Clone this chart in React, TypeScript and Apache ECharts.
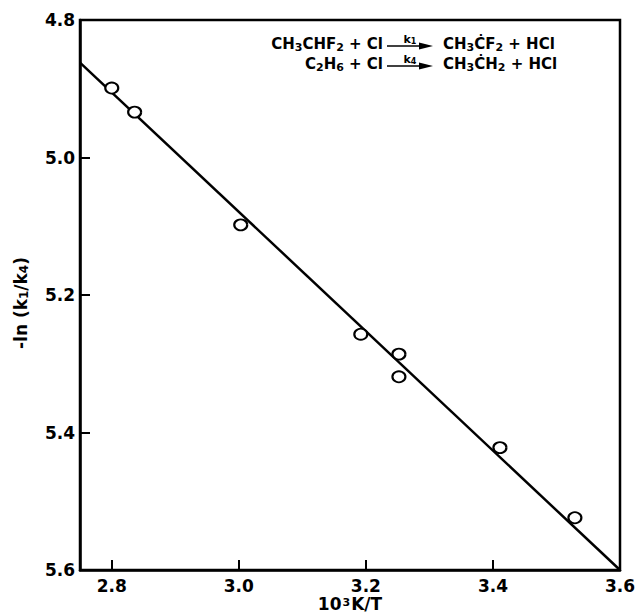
import React, { useEffect, useRef } from "react";
import * as echarts from "echarts";

const xValues = [2.8, 2.836, 3.003, 3.192, 3.252, 3.252, 3.411, 3.529];
const yValues = [4.899, 4.934, 5.098, 5.257, 5.286, 5.319, 5.422, 5.524];
const fitX = [2.75, 3.6];
const fitY = [4.862, 5.6];
const xTicks = [2.8, 3.0, 3.2, 3.4, 3.6];
const yTicks = [4.8, 5.0, 5.2, 5.4, 5.6];
const eqLeft = ["CH{s|3}CHF{s|2} + Cl", "C{s|2}H{s|6} + Cl"];
const eqK = ["k{s|1}", "k{s|4}"];
const eqRight = ["CH{s|3}ĊF{s|2} + HCl", "CH{s|3}ĊH{s|2} + HCl"];

const FONT = '"DejaVu Sans", "Liberation Sans", Arial, sans-serif';

export default function App() {
  const ref = useRef<HTMLDivElement>(null);
  useEffect(() => {
    if (!ref.current) return;
    const chart = echarts.init(ref.current, undefined, { renderer: "svg" });
    const subRich = {
      s: { fontSize: 11, fontWeight: "bold", fontFamily: FONT, padding: [7, 0, 0, 0], fill: "#000", color: "#000" },
    };
    const kRich = {
      s: { fontSize: 8, fontWeight: "bold", fontFamily: FONT, padding: [4, 0, 0, 0], fill: "#000", color: "#000" },
    };
    const graphics: any[] = [];
    eqLeft.forEach((t, i) => {
      const yc = 44 + i * 20;
      graphics.push({
        type: "text",
        x: 383,
        y: yc,
        style: { text: t, rich: subRich, align: "right", verticalAlign: "middle", fontSize: 15, fontWeight: "bold", fontFamily: FONT, fill: "#000" },
      });
      graphics.push({
        type: "line",
        shape: { x1: 387, y1: yc + 2, x2: 424, y2: yc + 2 },
        style: { stroke: "#000", lineWidth: 1.5 },
      });
      graphics.push({
        type: "polygon",
        shape: { points: [[419, yc - 1.5], [433, yc + 2], [419, yc + 5.5]] },
        style: { fill: "#000" },
      });
      graphics.push({
        type: "text",
        x: 410,
        y: yc + 1,
        style: { text: eqK[i], rich: kRich, align: "center", verticalAlign: "bottom", fontSize: 11, fontWeight: "bold", fontFamily: FONT, fill: "#000" },
      });
      graphics.push({
        type: "text",
        x: 443,
        y: yc,
        style: { text: eqRight[i], rich: subRich, align: "left", verticalAlign: "middle", fontSize: 15, fontWeight: "bold", fontFamily: FONT, fill: "#000" },
      });
    });

    chart.setOption({
      animation: false,
      backgroundColor: "#fff",
      grid: {
        left: 80,
        right: 15,
        top: 20,
        bottom: 45,
        show: true,
        borderColor: "#000",
        borderWidth: 2.5,
        outerBoundsMode: "none",
      },
      xAxis: {
        type: "value",
        min: 2.75,
        max: 3.6,
        name: "10{p|3}K/T",
        nameLocation: "middle",
        nameGap: 25,
        nameMoveOverlap: false,
        nameTextStyle: {
          fontSize: 17,
          lineHeight: 18,
          fontWeight: "bold",
          fontFamily: FONT,
          color: "#000",
          rich: {
            p: { fontSize: 11, lineHeight: 13, fontWeight: "bold", fontFamily: FONT, color: "#000", padding: [0, 1, 4, 1] },
          },
        },
        axisLine: { show: true, lineStyle: { color: "#000", width: 2.5 } },
        axisTick: { show: true, inside: true, length: 10, lineStyle: { color: "#000", width: 2 }, customValues: xTicks },
        axisLabel: {
          show: true,
          margin: 7,
          customValues: xTicks,
          fontSize: 17,
          lineHeight: 18,
          fontWeight: "bold",
          fontFamily: FONT,
          color: "#000",
          formatter: (v: number) => v.toFixed(1),
        },
        splitLine: { show: false },
      },
      yAxis: {
        type: "value",
        inverse: true,
        min: 4.8,
        max: 5.6,
        interval: 0.2,
        name: "-ln (k{s|1}/k{s|4})",
        nameLocation: "middle",
        nameGap: 50,
        nameMoveOverlap: false,
        nameTextStyle: {
          fontSize: 17,
          fontWeight: "bold",
          fontFamily: FONT,
          color: "#000",
          padding: [0, 16, 0, 0],
          rich: {
            s: { fontSize: 12, fontWeight: "bold", fontFamily: FONT, color: "#000", padding: [7, 0, 0, 0] },
          },
        },
        axisLine: { show: true, lineStyle: { color: "#000", width: 2.5 } },
        axisTick: { show: true, inside: true, length: 10, lineStyle: { color: "#000", width: 2 }, customValues: yTicks },
        axisLabel: {
          show: true,
          margin: 5,
          customValues: yTicks,
          fontSize: 17,
          fontWeight: "bold",
          fontFamily: FONT,
          color: "#000",
          formatter: (v: number) => v.toFixed(1),
        },
        splitLine: { show: false },
      },
      series: [
        {
          type: "line",
          data: fitX.map((x, i) => [x, fitY[i]]),
          showSymbol: false,
          symbol: "none",
          lineStyle: { color: "#000", width: 2.5 },
          z: 2,
          silent: true,
        },
        {
          type: "scatter",
          data: xValues.map((x, i) => [x, yValues[i]]),
          symbol: "circle",
          symbolSize: [13, 11],
          itemStyle: { color: "#fff", borderColor: "#000", borderWidth: 2, opacity: 1 },
          z: 3,
        },
      ],
      graphic: graphics,
    });
    return () => chart.dispose();
  }, []);
  return (
    <div
      ref={ref}
      style={{ position: "absolute", left: 0, top: 0, width: 635, height: 615, background: "#fff" }}
    />
  );
}
